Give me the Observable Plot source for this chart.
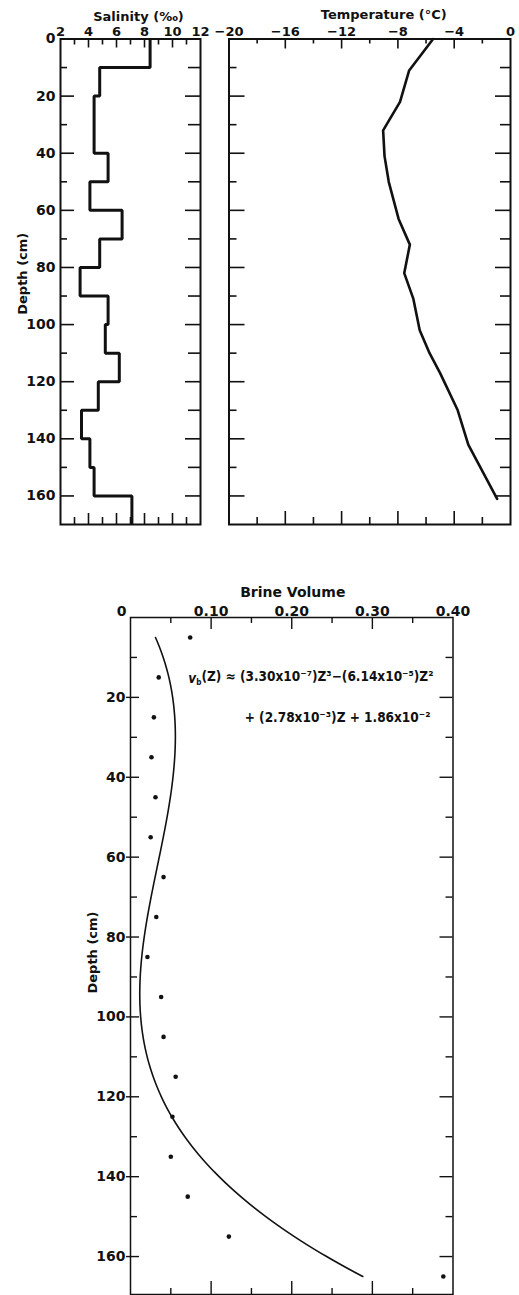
<!DOCTYPE html>
<html>
<head>
<meta charset="utf-8">
<script src="https://cdn.jsdelivr.net/npm/d3@7"></script>
<script src="https://cdn.jsdelivr.net/npm/@observablehq/plot@0.6"></script>
<style>
  body { margin: 0; background: #fff; }
  #page { position: relative; width: 519px; height: 1295px; overflow: hidden; background: #fff; }
  #page svg { position: absolute; overflow: visible; max-width: none; }
</style>
</head>
<body>
<div id="page"></div>
<script>
// ---- Salinity profile (‰), one value per core section ----
const salinityDepthTop    = [0, 10, 20, 40, 50, 60, 70, 80, 90, 100, 110, 120, 130, 140, 150, 160];
const salinityDepthBottom = [10, 20, 40, 50, 60, 70, 80, 90, 100, 110, 120, 130, 140, 150, 160, 170];
const salinity            = [8.4, 4.8, 4.4, 5.4, 4.1, 6.4, 4.8, 3.4, 5.4, 5.2, 6.2, 4.7, 3.5, 4.1, 4.4, 7.1];

// ---- Ice temperature profile (°C) ----
const temperatureDepth = [0, 11, 22, 32, 41, 50, 63, 72, 82, 91, 102, 110, 117, 130, 142, 161];
const temperature      = [-5.5, -7.2, -7.85, -9.05, -8.95, -8.65, -7.95, -7.15, -7.55, -6.9, -6.45, -5.75, -5.0, -3.75, -3.0, -0.95];

// ---- Brine volume: section values and cubic fit ----
const brineDepth  = [5, 15, 25, 35, 45, 55, 65, 75, 85, 95, 105, 115, 125, 135, 145, 155, 165];
const brineVolume = [0.074, 0.035, 0.029, 0.026, 0.031, 0.025, 0.041, 0.032, 0.021, 0.038, 0.041, 0.056, 0.052, 0.050, 0.071, 0.122, 0.388];
// v_b(Z) = a3 Z^3 + a2 Z^2 + a1 Z + a0
const fitCoefficients = [3.30e-7, -6.14e-5, 2.78e-3, 1.86e-2];
const fitDepthExtent  = [5, 165];

// ---- Axis ticks and labels ----
const salinityMinorTicks    = [3, 5, 7, 9, 11];
const salinityMajorTicks    = [4, 6, 8, 10];
const salinityLabels        = [2, 4, 6, 8, 10, 12];
const temperatureMinorTicks = [-18, -14, -10, -6, -2];
const temperatureMajorTicks = [-16, -12, -8, -4];
const temperatureLabels     = [-20, -16, -12, -8, -4, 0];
const brineMinorTicks       = [0.05, 0.15, 0.25, 0.35];
const brineMajorTicks       = [0.10, 0.20, 0.30];
const brineLabels           = [0, 0.10, 0.20, 0.30, 0.40];
const depthMinorTicks       = [10, 30, 50, 70, 90, 110, 130, 150];
const depthMajorTicks       = [20, 40, 60, 80, 100, 120, 140, 160];
const depthLabelsTop        = [0, 20, 40, 60, 80, 100, 120, 140, 160];
const depthLabelsBrine      = [20, 40, 60, 80, 100, 120, 140, 160];

const ink = "#111";
const FONT = "'DejaVu Sans', 'Liberation Sans', sans-serif";
const labelFont = {fontFamily: FONT, fontSize: 13, fontWeight: "bold", fill: ink};
const page = document.getElementById("page");

// Inward tick marks on all four sides of a frame of size w × h (px).
function frameTicks({xMinor, xMajor, yMinor, yMajor, w, h, top, bottom, left, right, sw = 1.6, leftOut = 0}) {
  const st = {stroke: ink, strokeWidth: sw};
  const marks = [];
  const pair = [[xMinor, 0], [xMajor, 1]];
  for (const [vals, k] of pair) {
    marks.push(Plot.ruleX(vals, {x: d => d, insetBottom: h - top[k], ...st}));
    marks.push(Plot.ruleX(vals, {x: d => d, insetTop: h - bottom[k], ...st}));
  }
  for (const [vals, k] of [[yMinor, 0], [yMajor, 1]]) {
    marks.push(Plot.ruleY(vals, {y: d => d, insetRight: w - left[k], insetLeft: k ? -leftOut : 0, ...st}));
    marks.push(Plot.ruleY(vals, {y: d => d, insetLeft: w - right[k], ...st}));
  }
  return marks;
}

function place(svg, left, top) {
  svg.style.left = left + "px";
  svg.style.top = top + "px";
  page.append(svg);
}

// ---------------- Salinity panel ----------------
const salinityRows = salinity.flatMap((s, i) => [
  {s, d: salinityDepthTop[i]},
  {s, d: salinityDepthBottom[i]}
]);
const topPanel = {height: 540, marginTop: 38.5, marginBottom: 16};
const topFrameH = topPanel.height - topPanel.marginTop - topPanel.marginBottom;

const salinityPlot = Plot.plot({
  width: 215, ...topPanel, marginLeft: 60, marginRight: 15,
  x: {domain: [2, 12], axis: null},
  y: {domain: [0, 170], reverse: true, axis: null},
  style: {fontFamily: FONT, background: "transparent", overflow: "visible"},
  marks: [
    ...frameTicks({
      xMinor: salinityMinorTicks, xMajor: salinityMajorTicks,
      yMinor: depthMinorTicks, yMajor: depthMajorTicks,
      w: 140, h: topFrameH,
      top: [6, 9], bottom: [7, 11], left: [7, 14], right: [12, 15]
    }),
    Plot.frame({stroke: ink, strokeWidth: 2}),
    Plot.line(salinityRows, {x: "s", y: "d", stroke: ink, strokeWidth: 3, strokeLinejoin: "miter", strokeLinecap: "butt"}),
    Plot.text(salinityLabels, {x: d => d, text: d => String(d), frameAnchor: "top", lineAnchor: "bottom", dy: -3, ...labelFont}),
    Plot.text(depthLabelsTop, {y: d => d, text: d => String(d), frameAnchor: "left", textAnchor: "end", dx: -5, ...labelFont, fontSize: 14}),
    Plot.text(["Salinity (‰)"], {text: d => d, frameAnchor: "top", lineAnchor: "middle", dx: 8, dy: -22, ...labelFont}),
    Plot.text(["Depth (cm)"], {text: d => d, frameAnchor: "left", textAnchor: "middle", lineAnchor: "middle", rotate: -90, dx: -38, dy: -8, ...labelFont})
  ]
});
place(salinityPlot, 0, 0);

// ---------------- Temperature panel ----------------
const temperatureRows = temperature.map((t, i) => ({t, d: temperatureDepth[i]}));
const minus = d => d === 0 ? "0" : "\u2212" + Math.abs(d);

const temperaturePlot = Plot.plot({
  width: 319, ...topPanel, marginLeft: 28.5, marginRight: 9,
  x: {domain: [-20, 0], axis: null},
  y: {domain: [0, 170], reverse: true, axis: null},
  style: {fontFamily: FONT, background: "transparent", overflow: "visible"},
  marks: [
    ...frameTicks({
      xMinor: temperatureMinorTicks, xMajor: temperatureMajorTicks,
      yMinor: depthMinorTicks, yMajor: depthMajorTicks,
      w: 281.5, h: topFrameH,
      top: [5, 10], bottom: [7, 13], left: [8, 16], right: [10, 15]
    }),
    Plot.frame({stroke: ink, strokeWidth: 2}),
    Plot.line(temperatureRows, {x: "t", y: "d", stroke: ink, strokeWidth: 2.6, strokeLinejoin: "round"}),
    Plot.text(temperatureLabels, {x: d => d, text: minus, frameAnchor: "top", lineAnchor: "bottom", dy: -3, ...labelFont}),
    Plot.text(["Temperature (°C)"], {text: d => d, frameAnchor: "top", lineAnchor: "middle", dx: 14, dy: -24, ...labelFont})
  ]
});
place(temperaturePlot, 200, 0);

// ---------------- Brine volume panel ----------------
const brineRows = brineVolume.map((v, i) => ({v, d: brineDepth[i]}));
const cubic = z => ((fitCoefficients[0] * z + fitCoefficients[1]) * z + fitCoefficients[2]) * z + fitCoefficients[3];
const fitRows = d3.range(fitDepthExtent[0], fitDepthExtent[1] + 0.5, 1).map(z => ({z, v: cubic(z)}));

const brinePanel = {width: 519, height: 735, marginLeft: 130, marginRight: 66.5, marginTop: 57, marginBottom: 1};
const formulaFont = {fontFamily: "'Liberation Sans Narrow', 'DejaVu Sans Condensed', 'Liberation Sans', sans-serif", fontWeight: "bold", fontSize: 13.5, fill: ink};

const brinePlot = Plot.plot({
  ...brinePanel,
  x: {domain: [0, 0.40], axis: null},
  y: {domain: [0, 169.5], reverse: true, axis: null},
  style: {fontFamily: FONT, background: "transparent", overflow: "visible"},
  marks: [
    ...frameTicks({
      xMinor: brineMinorTicks, xMajor: brineMajorTicks,
      yMinor: depthMinorTicks, yMajor: depthMajorTicks,
      w: 322.5, h: 677,
      top: [6, 12], bottom: [6, 13], left: [7, 9], right: [7, 13],
      sw: 1.4, leftOut: 4
    }),
    Plot.frame({stroke: ink, strokeWidth: 1.5}),
    Plot.line(fitRows, {x: "v", y: "z", stroke: ink, strokeWidth: 1.6, curve: "natural"}),
    Plot.dot(brineRows, {x: "v", y: "d", r: 2.3, fill: ink, stroke: "none"}),
    Plot.text(brineLabels.filter(d => d > 0), {x: d => d, text: d => d.toFixed(2), frameAnchor: "top", lineAnchor: "bottom", dy: -2, ...labelFont, fontSize: 14}),
    Plot.text(brineLabels.filter(d => d === 0), {x: d => d, text: d => "0", frameAnchor: "top", lineAnchor: "bottom", dx: -9, dy: -2, ...labelFont, fontSize: 14}),
    Plot.text(depthLabelsBrine, {y: d => d, text: d => String(d), frameAnchor: "left", textAnchor: "end", dx: -5, ...labelFont, fontSize: 14}),
    Plot.text(["Brine Volume"], {text: d => d, frameAnchor: "top", lineAnchor: "middle", dx: 1, dy: -25, ...labelFont, fontSize: 14}),
    Plot.text(["Depth (cm)"], {text: d => d, frameAnchor: "left", textAnchor: "middle", lineAnchor: "middle", rotate: -90, dx: -38, dy: -3.5, ...labelFont}),
    Plot.text(["vb(Z) ≈ (3.30x10⁻⁷)Z³−(6.14x10⁻⁵)Z²"], {text: d => d, frameAnchor: "top-right", textAnchor: "end", lineAnchor: "middle", dx: -19.5, dy: 61, ...formulaFont}),
    Plot.text(["+ (2.78x10⁻³)Z + 1.86x10⁻²"], {text: d => d, frameAnchor: "top-right", textAnchor: "end", lineAnchor: "middle", dx: -22.5, dy: 100, ...formulaFont})
  ]
});
place(brinePlot, 0, 560);

// Italic v with subscript b in the fit equation
d3.select(brinePlot).selectAll("text")
  .filter(function () { return this.textContent.startsWith("vb(Z)"); })
  .each(function () {
    const t = d3.select(this);
    const rest = this.textContent.slice(2);
    t.text(null);
    t.append("tspan").attr("font-style", "italic").text("v");
    t.append("tspan").attr("font-size", "0.6em").attr("dy", "0.3em").text("b");
    t.append("tspan").attr("dy", "-0.3em").text(rest);
  });
</script>
</body>
</html>
